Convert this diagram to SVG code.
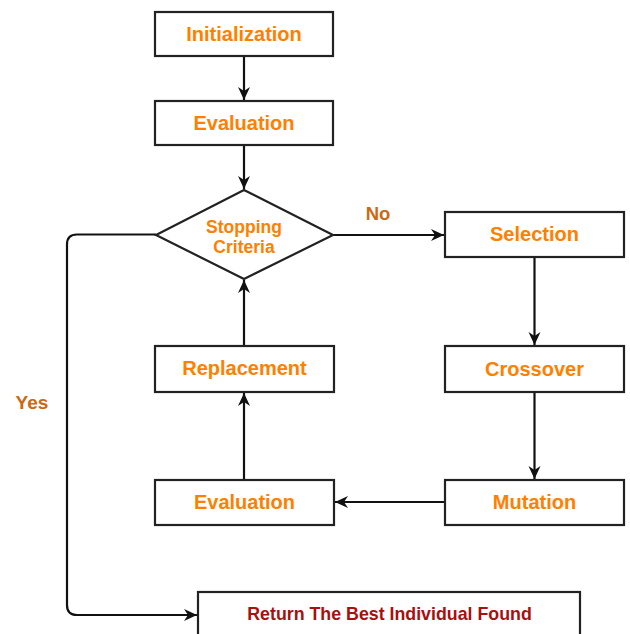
<svg xmlns="http://www.w3.org/2000/svg" width="630" height="634" viewBox="0 0 630 634">
<defs>
<marker id="arr" markerUnits="userSpaceOnUse" markerWidth="14" markerHeight="14" viewBox="0 0 14 14" refX="13" refY="7" orient="auto">
<path d="M0,1 L13,7 L0,13 L4,7 z" fill="#111"/>
</marker>
<style>
.box{fill:#fff;stroke:#222;stroke-width:2.2}
.t{font-family:"Liberation Sans",Arial,sans-serif;font-weight:bold;font-size:20px;fill:#FF8000;text-anchor:middle}
.lbl{font-family:"Liberation Sans",Arial,sans-serif;font-weight:bold;font-size:18.5px;fill:#CC6A14;text-anchor:middle}
.c{fill:none;stroke:#111;stroke-width:2.2;marker-end:url(#arr)}
</style>
</defs>
<rect width="630" height="634" fill="#fff"/>
<g id="connectors">
<path class="c" d="M244,56 V100"/>
<path class="c" d="M244,145 V189"/>
<path class="c" d="M333,235 H444"/>
<path class="c" d="M534.5,257 V345"/>
<path class="c" d="M534.5,392 V479"/>
<path class="c" d="M445,502 H335"/>
<path class="c" d="M244,480 V393"/>
<path class="c" d="M244,346 V280"/>
<path class="c" d="M156,234.5 H77 Q67,234.5 67,244.5 V605 Q67,615 77,615 H197"/>
<text class="lbl" x="378" y="219.5">No</text>
<text class="lbl" x="32" y="409" style="font-size:19px">Yes</text>
</g>
<g id="initialization">
<rect class="box" x="155" y="12" width="178" height="44"/>
<text class="t" x="244" y="40.5">Initialization</text>
</g>
<g id="evaluation1">
<rect class="box" x="155" y="101" width="178" height="44"/>
<text class="t" x="244" y="129.5">Evaluation</text>
</g>
<g id="stopping">
<polygon class="box" points="244,190 333,235 244,279 156,235"/>
<text class="t" x="244" y="233" style="font-size:17.5px">Stopping</text>
<text class="t" x="244" y="252.5" style="font-size:17.5px">Criteria</text>
</g>
<g id="selection">
<rect class="box" x="445" y="212" width="179" height="45"/>
<text class="t" x="534.5" y="241">Selection</text>
</g>
<g id="crossover">
<rect class="box" x="445" y="346" width="179" height="46"/>
<text class="t" x="534.5" y="375.5">Crossover</text>
</g>
<g id="mutation">
<rect class="box" x="445" y="480" width="179" height="45"/>
<text class="t" x="534.5" y="508.5">Mutation</text>
</g>
<g id="replacement">
<rect class="box" x="155" y="346" width="179" height="46"/>
<text class="t" x="244.5" y="375">Replacement</text>
</g>
<g id="evaluation2">
<rect class="box" x="155" y="480" width="179" height="45"/>
<text class="t" x="244.5" y="509">Evaluation</text>
</g>
<g id="return">
<rect class="box" x="198" y="592" width="382" height="60"/>
<text class="t" x="389.5" y="620" style="font-size:17.8px;fill:#A80F0F">Return The Best Individual Found</text>
</g>
</svg>
